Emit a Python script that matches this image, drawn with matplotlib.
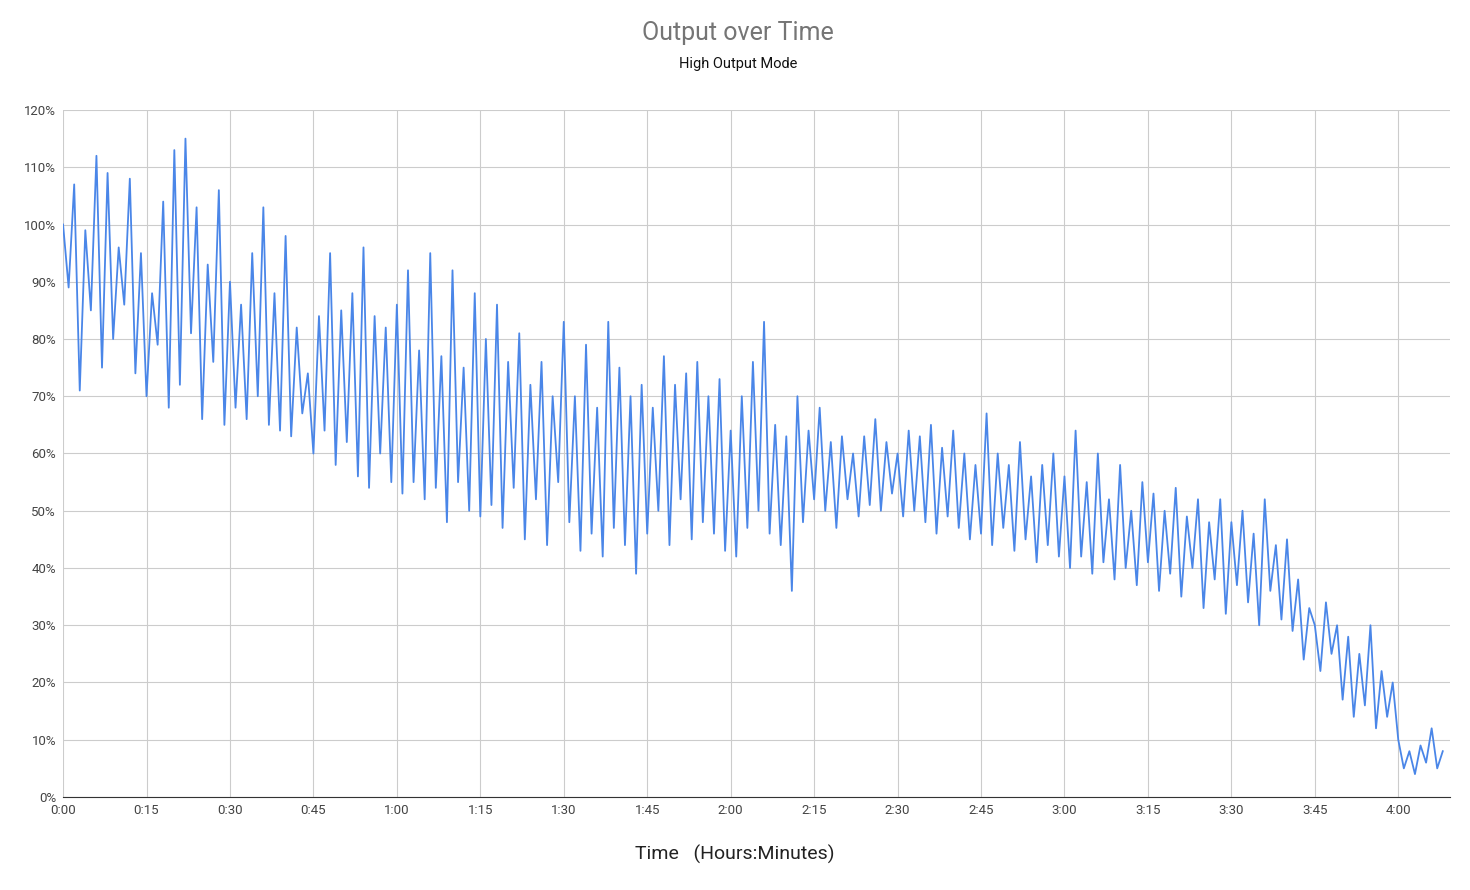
import matplotlib.pyplot as plt

plt.rcParams['font.family'] = ['Roboto', 'DejaVu Sans']

output = [
    100, 89, 107, 71, 99, 85, 112, 75, 109, 80, 96, 86, 108, 74, 95,
    70, 88, 79, 104, 68, 113, 72, 115, 81, 103, 66, 93, 76, 106, 65,
    90, 68, 86, 66, 95, 70, 103, 65, 88, 64, 98, 63, 82, 67, 74,
    60, 84, 64, 95, 58, 85, 62, 88, 56, 96, 54, 84, 60, 82, 55,
    86, 53, 92, 55, 78, 52, 95, 54, 77, 48, 92, 55, 75, 50, 88,
    49, 80, 51, 86, 47, 76, 54, 81, 45, 72, 52, 76, 44, 70, 55,
    83, 48, 70, 43, 79, 46, 68, 42, 83, 47, 75, 44, 70, 39, 72,
    46, 68, 50, 77, 44, 72, 52, 74, 45, 76, 48, 70, 46, 73, 43,
    64, 42, 70, 47, 76, 50, 83, 46, 65, 44, 63, 36, 70, 48, 64,
    52, 68, 50, 62, 47, 63, 52, 60, 49, 63, 51, 66, 50, 62, 53,
    60, 49, 64, 50, 63, 48, 65, 46, 61, 49, 64, 47, 60, 45, 58,
    46, 67, 44, 60, 47, 58, 43, 62, 45, 56, 41, 58, 44, 60, 42,
    56, 40, 64, 42, 55, 39, 60, 41, 52, 38, 58, 40, 50, 37, 55,
    41, 53, 36, 50, 39, 54, 35, 49, 40, 52, 33, 48, 38, 52, 32,
    48, 37, 50, 34, 46, 30, 52, 36, 44, 31, 45, 29, 38, 24, 33,
    30, 22, 34, 25, 30, 17, 28, 14, 25, 16, 30, 12, 22, 14, 20,
    10, 5, 8, 4, 9, 6, 12, 5, 8,
]
minutes = list(range(len(output)))

x_ticks = list(range(0, 241, 15))
x_labels = [f"{m // 60}:{m % 60:02d}" for m in x_ticks]
y_ticks = list(range(0, 121, 10))
y_labels = [f"{v}%" for v in y_ticks]

fig = plt.figure(figsize=(14.7, 8.9), dpi=100)
ax = fig.add_axes([0.0429, 0.1045, 0.9435, 0.7719])
ax.plot(minutes, output, color='#4a86e8', linewidth=1.3)

ax.set_xlim(0, 249.3)
ax.set_ylim(0, 120)
ax.set_xticks(x_ticks)
ax.set_xticklabels(x_labels, fontsize=9.5, color='#444444')
ax.set_yticks(y_ticks)
ax.set_yticklabels(y_labels, fontsize=9.5, color='#444444')
ax.tick_params(length=0, pad=5)
ax.grid(True, color='#cccccc', linewidth=0.8)
ax.set_axisbelow(True)
for side in ['top', 'right', 'left']:
    ax.spines[side].set_visible(False)
ax.spines['bottom'].set_color('#333333')

fig.text(0.502, 0.963, "Output over Time", ha='center', va='center', fontsize=18, color='#757575')
fig.text(0.502, 0.928, "High Output Mode", ha='center', va='center', fontsize=10.5, color='#111111')
fig.text(0.5, 0.04, "Time   (Hours:Minutes)", ha='center', va='center', fontsize=14, color='#222222')

fig.savefig('out.png')
